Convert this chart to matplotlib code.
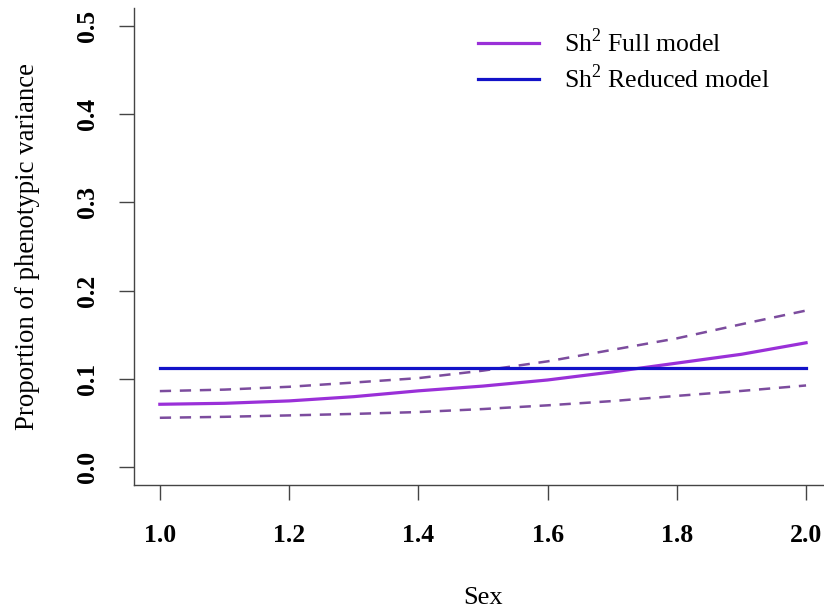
import numpy as np
import matplotlib
matplotlib.use("Agg")
import matplotlib.pyplot as plt

# values
sex = [1.0, 1.1, 1.2, 1.3, 1.4, 1.5, 1.6, 1.7, 1.8, 1.9, 2.0]
full_fit = [0.0714, 0.0725, 0.0752, 0.0800, 0.0866, 0.0920, 0.0989, 0.1080, 0.1180, 0.1280, 0.1410]
full_upper = [0.0863, 0.0880, 0.0912, 0.0960, 0.1010, 0.1095, 0.1200, 0.1330, 0.1460, 0.1620, 0.1775]
full_lower = [0.0561, 0.0572, 0.0588, 0.0605, 0.0626, 0.0660, 0.0702, 0.0750, 0.0809, 0.0865, 0.0927]
reduced = 0.1124

xticks = [1.0, 1.2, 1.4, 1.6, 1.8, 2.0]
yticks = [0.0, 0.1, 0.2, 0.3, 0.4, 0.5]

plt.rcParams["font.family"] = ["Liberation Serif", "DejaVu Serif"]
plt.rcParams["mathtext.fontset"] = "custom"
plt.rcParams["mathtext.rm"] = "Liberation Serif"

fig = plt.figure(figsize=(8.24, 6.11), dpi=100)
ax = fig.add_axes([0.1626, 0.2062, 0.847, 0.7807])

purple = "#9a30d8"
purple_dash = "#7c4c9e"
blue = "#1212c8"

ax.plot(sex, full_fit, color=purple, lw=2.3, label=r"Sh$^{2}$ Full model")
ax.plot(sex, full_upper, color=purple_dash, lw=1.8, ls=(0, (4.5, 3.5)))
ax.plot(sex, full_lower, color=purple_dash, lw=1.8, ls=(0, (4.5, 3.5)))
ax.plot([sex[0], sex[-1]], [reduced, reduced], color=blue, lw=2.3, label=r"Sh$^{2}$ Reduced model")

ax.set_xlim(0.96, 2.04)
ax.set_ylim(-0.02, 0.52)
ax.set_xticks(xticks)
ax.set_xticklabels(["%.1f" % v for v in xticks], fontweight="bold", fontsize=18.5)
ax.set_yticks(yticks)
ax.set_yticklabels(["%.1f" % v for v in yticks], fontweight="bold", fontsize=18.5,
                   rotation=90, va="center")

for s in ["top", "right"]:
    ax.spines[s].set_visible(False)
for s in ["left", "bottom"]:
    ax.spines[s].set_color("#444444")
    ax.spines[s].set_linewidth(1.0)
ax.tick_params(axis="both", length=11, width=1.0, color="#444444")
ax.tick_params(axis="x", pad=17)
ax.tick_params(axis="y", pad=14)

ax.set_xlabel("Sex", fontsize=19, labelpad=29)
ax.set_ylabel("Proportion of phenotypic variance", fontsize=19.3, labelpad=26)

leg = ax.legend(loc="upper left", bbox_to_anchor=(0.46, 1.006), frameon=False,
                fontsize=18.5, handlelength=2.35, handletextpad=1.0, labelspacing=0.3)

fig.savefig("out.png", dpi=100)
